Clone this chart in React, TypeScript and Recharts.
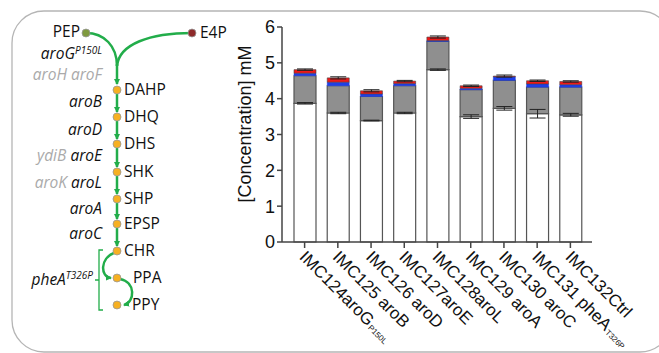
import { Bar, BarChart, ErrorBar, XAxis, YAxis } from 'recharts';

const strains = ['IMC124', 'IMC125', 'IMC126', 'IMC127', 'IMC128', 'IMC129', 'IMC130', 'IMC131', 'IMC132'];
const genes = ['aroG', ' aroB', ' aroD', 'aroE', 'aroL', ' aroA', ' aroC', ' pheA', 'Ctrl'];
const superscripts = ['P150L', '', '', '', '', '', '', 'T326P', ''];

const whiteSeg = [3.87, 3.6, 3.39, 3.6, 4.81, 3.5, 3.73, 3.58, 3.55];
const graySeg = [0.77, 0.76, 0.67, 0.76, 0.79, 0.75, 0.78, 0.74, 0.77];
const blueSeg = [0.07, 0.1, 0.07, 0.06, 0.02, 0.04, 0.1, 0.09, 0.07];
const redSeg = [0.1, 0.12, 0.09, 0.07, 0.1, 0.07, 0.02, 0.09, 0.09];
const whiteErr = [0.02, 0.02, 0.01, 0.02, 0.02, 0.05, 0.05, 0.12, 0.04];
const topErr = [0.02, 0.03, 0.03, 0.02, 0.03, 0.02, 0.03, 0.02, 0.02];

const yTicks = [0, 1, 2, 3, 4, 5, 6];

const data = strains.map((s, i) => ({
  name: s,
  white: whiteSeg[i],
  gray: graySeg[i],
  blue: blueSeg[i],
  red: redSeg[i],
  whiteErr: whiteErr[i],
  topErr: topErr[i],
}));

const GREEN = '#22ad4a';
const ORANGE = '#f6b022';
const chartFont = '"Liberation Sans", Arial, sans-serif';
const diagFont = '"Open Sans", "Liberation Sans", sans-serif';

const XTick = (props: any) => {
  const { x, y, payload } = props;
  const i = payload.index;
  const sup = superscripts[i];
  return (
    <g transform={`translate(${x - 6},${y + 10}) rotate(45)`}>
      <text x={0} y={0} textAnchor='start' fontSize={17} fill='#111' fontFamily={chartFont}>
        {strains[i] + genes[i]}
        {sup && (
          <tspan dx={1} dy={1} fontSize={8}>
            {sup}
          </tspan>
        )}
      </text>
    </g>
  );
};

const dots = [
  { y: 90, label: 'DAHP' },
  { y: 117, label: 'DHQ' },
  { y: 144, label: 'DHS' },
  { y: 172, label: 'SHK' },
  { y: 199, label: 'SHP' },
  { y: 224, label: 'EPSP' },
  { y: 251, label: 'CHR' },
];

const enzymes = [
  { y: 107, main: 'aroB', extra: '' },
  { y: 135, main: 'aroD', extra: '' },
  { y: 161, main: 'aroE', extra: 'ydiB' },
  { y: 188, main: 'aroL', extra: 'aroK' },
  { y: 214, main: 'aroA', extra: '' },
  { y: 239, main: 'aroC', extra: '' },
];

function Pathway() {
  const x = 117;
  return (
    <svg
      width={659}
      height={353}
      style={{ position: 'absolute', left: 0, top: 0, pointerEvents: 'none' }}
    >
      <defs>
        <marker id='arr' markerWidth='6' markerHeight='6' refX='5' refY='3' orient='auto' markerUnits='userSpaceOnUse'>
          <path d='M0,0 L6,3 L0,6 z' fill={GREEN} />
        </marker>
      </defs>
      <rect x={12} y={11} width={660} height={341} rx={32} fill='none' stroke='#b5b5b5' strokeWidth={1.3} />

      {/* entry curves */}
      <path d={`M86,33 C104,33 ${x},46 ${x},66`} fill='none' stroke={GREEN} strokeWidth={2.5} />
      <path d={`M192,33 C150,33 ${x + 2},44 ${x},66`} fill='none' stroke={GREEN} strokeWidth={2.5} />
      <line x1={x} y1={64} x2={x} y2={84} stroke={GREEN} strokeWidth={2.5} markerEnd='url(#arr)' />
      <circle cx={86} cy={33} r={4} fill='#7f9a3f' stroke='#999' strokeWidth={0.8} />
      <circle cx={192} cy={33} r={4} fill='#8e2a2a' stroke='#999' strokeWidth={0.8} />
      <text x={80} y={37} textAnchor='end' fontSize={15.5} fontFamily={diagFont} fill='#111'>PEP</text>
      <text x={200} y={38} fontSize={15.5} fontFamily={diagFont} fill='#111'>E4P</text>
      <text x={102} y={59} textAnchor='end' fontSize={15.5} fontStyle='italic' fontFamily={diagFont} fill='#111'>
        aroG<tspan dy={-5} fontSize={10}>P150L</tspan>
      </text>
      <text x={102} y={80} textAnchor='end' fontSize={15.5} fontStyle='italic' fontFamily={diagFont} fill='#aaa'>
        aroH aroF
      </text>

      {dots.slice(0, -1).map((d, i) => (
        <line key={d.label} x1={x} y1={d.y + 4} x2={x} y2={dots[i + 1].y - 5} stroke={GREEN} strokeWidth={2.5} markerEnd='url(#arr)' />
      ))}

      {enzymes.map((e) => (
        <text key={e.main} x={102} y={e.y} textAnchor='end' fontSize={15.5} fontStyle='italic' fontFamily={diagFont} fill='#111'>
          {e.extra && <tspan fill='#aaa'>{e.extra + ' '}</tspan>}
          {e.main}
        </text>
      ))}

      {/* CHR -> PPA -> PPY */}
      <path d='M114,253 C100,258 100,277 111,278' fill='none' stroke={GREEN} strokeWidth={2.5} markerEnd='url(#arr)' />
      <path d='M120,279 C136,282 135,302 124,305' fill='none' stroke={GREEN} strokeWidth={2.5} markerEnd='url(#arr)' />
      <path d='M103,250 H99 V310 H103 M99,280 H95' fill='none' stroke={GREEN} strokeWidth={1.3} />
      <text x={93} y={285} textAnchor='end' fontSize={15.5} fontStyle='italic' fontFamily={diagFont} fill='#111'>
        pheA<tspan dy={-6} fontSize={10}>T326P</tspan>
      </text>

      {dots.map((d) => (
        <g key={d.label}>
          <circle cx={x} cy={d.y} r={4} fill={ORANGE} stroke='#999' strokeWidth={0.8} />
          <text x={124} y={d.y + 5} fontSize={15.5} fontFamily={diagFont} fill='#111'>{d.label}</text>
        </g>
      ))}
      <circle cx={x} cy={278} r={4} fill={ORANGE} stroke='#999' strokeWidth={0.8} />
      <text x={133} y={283} fontSize={15.5} fontFamily={diagFont} fill='#111'>PPA</text>
      <circle cx={x} cy={305} r={4} fill={ORANGE} stroke='#999' strokeWidth={0.8} />
      <text x={132} y={310} fontSize={15.5} fontFamily={diagFont} fill='#111'>PPY</text>

      <text
        transform='translate(251,124) rotate(-90)'
        textAnchor='middle'
        fontSize={18}
        fontFamily={chartFont}
        fill='#111'
      >
        [Concentration] mM
      </text>
    </svg>
  );
}

export default function App() {
  return (
    <div style={{ position: 'fixed', left: 0, top: 0, width: 659, height: 353, background: '#fff' }}>
      <BarChart
        width={659}
        height={353}
        data={data}
        barSize={22}
        margin={{ top: 27, right: 67, bottom: 81, left: 232 }}
      >
        <XAxis
          dataKey='name'
          height={30}
          interval={0}
          tick={<XTick />}
          tickSize={6}
          tickMargin={0}
          padding={{ left: 6, right: 5 }}
          stroke='#444'
          strokeWidth={1.5}
        />
        <YAxis
          width={50}
          domain={[0, 6]}
          ticks={yTicks}
          tickSize={5}
          tickMargin={2}
          stroke='#444'
          strokeWidth={1.5}
          tick={{ fontSize: 18, fill: '#111', fontFamily: chartFont }}
        />
        <Bar dataKey='white' stackId='a' fill='#ffffff' stroke='#555' strokeWidth={1.2} isAnimationActive={false}>
          <ErrorBar dataKey='whiteErr' width={8} stroke='#222' strokeWidth={1} direction='y' />
        </Bar>
        <Bar dataKey='gray' stackId='a' fill='#8f8f8f' stroke='#555' strokeWidth={1.2} isAnimationActive={false} />
        <Bar dataKey='blue' stackId='a' fill='#1f3fe6' stroke='#1f3fe6' strokeWidth={0.5} isAnimationActive={false} />
        <Bar dataKey='red' stackId='a' fill='#f01818' stroke='#444' strokeWidth={0.6} isAnimationActive={false}>
          <ErrorBar dataKey='topErr' width={8} stroke='#222' strokeWidth={1} direction='y' />
        </Bar>
      </BarChart>
      <Pathway />
    </div>
  );
}
